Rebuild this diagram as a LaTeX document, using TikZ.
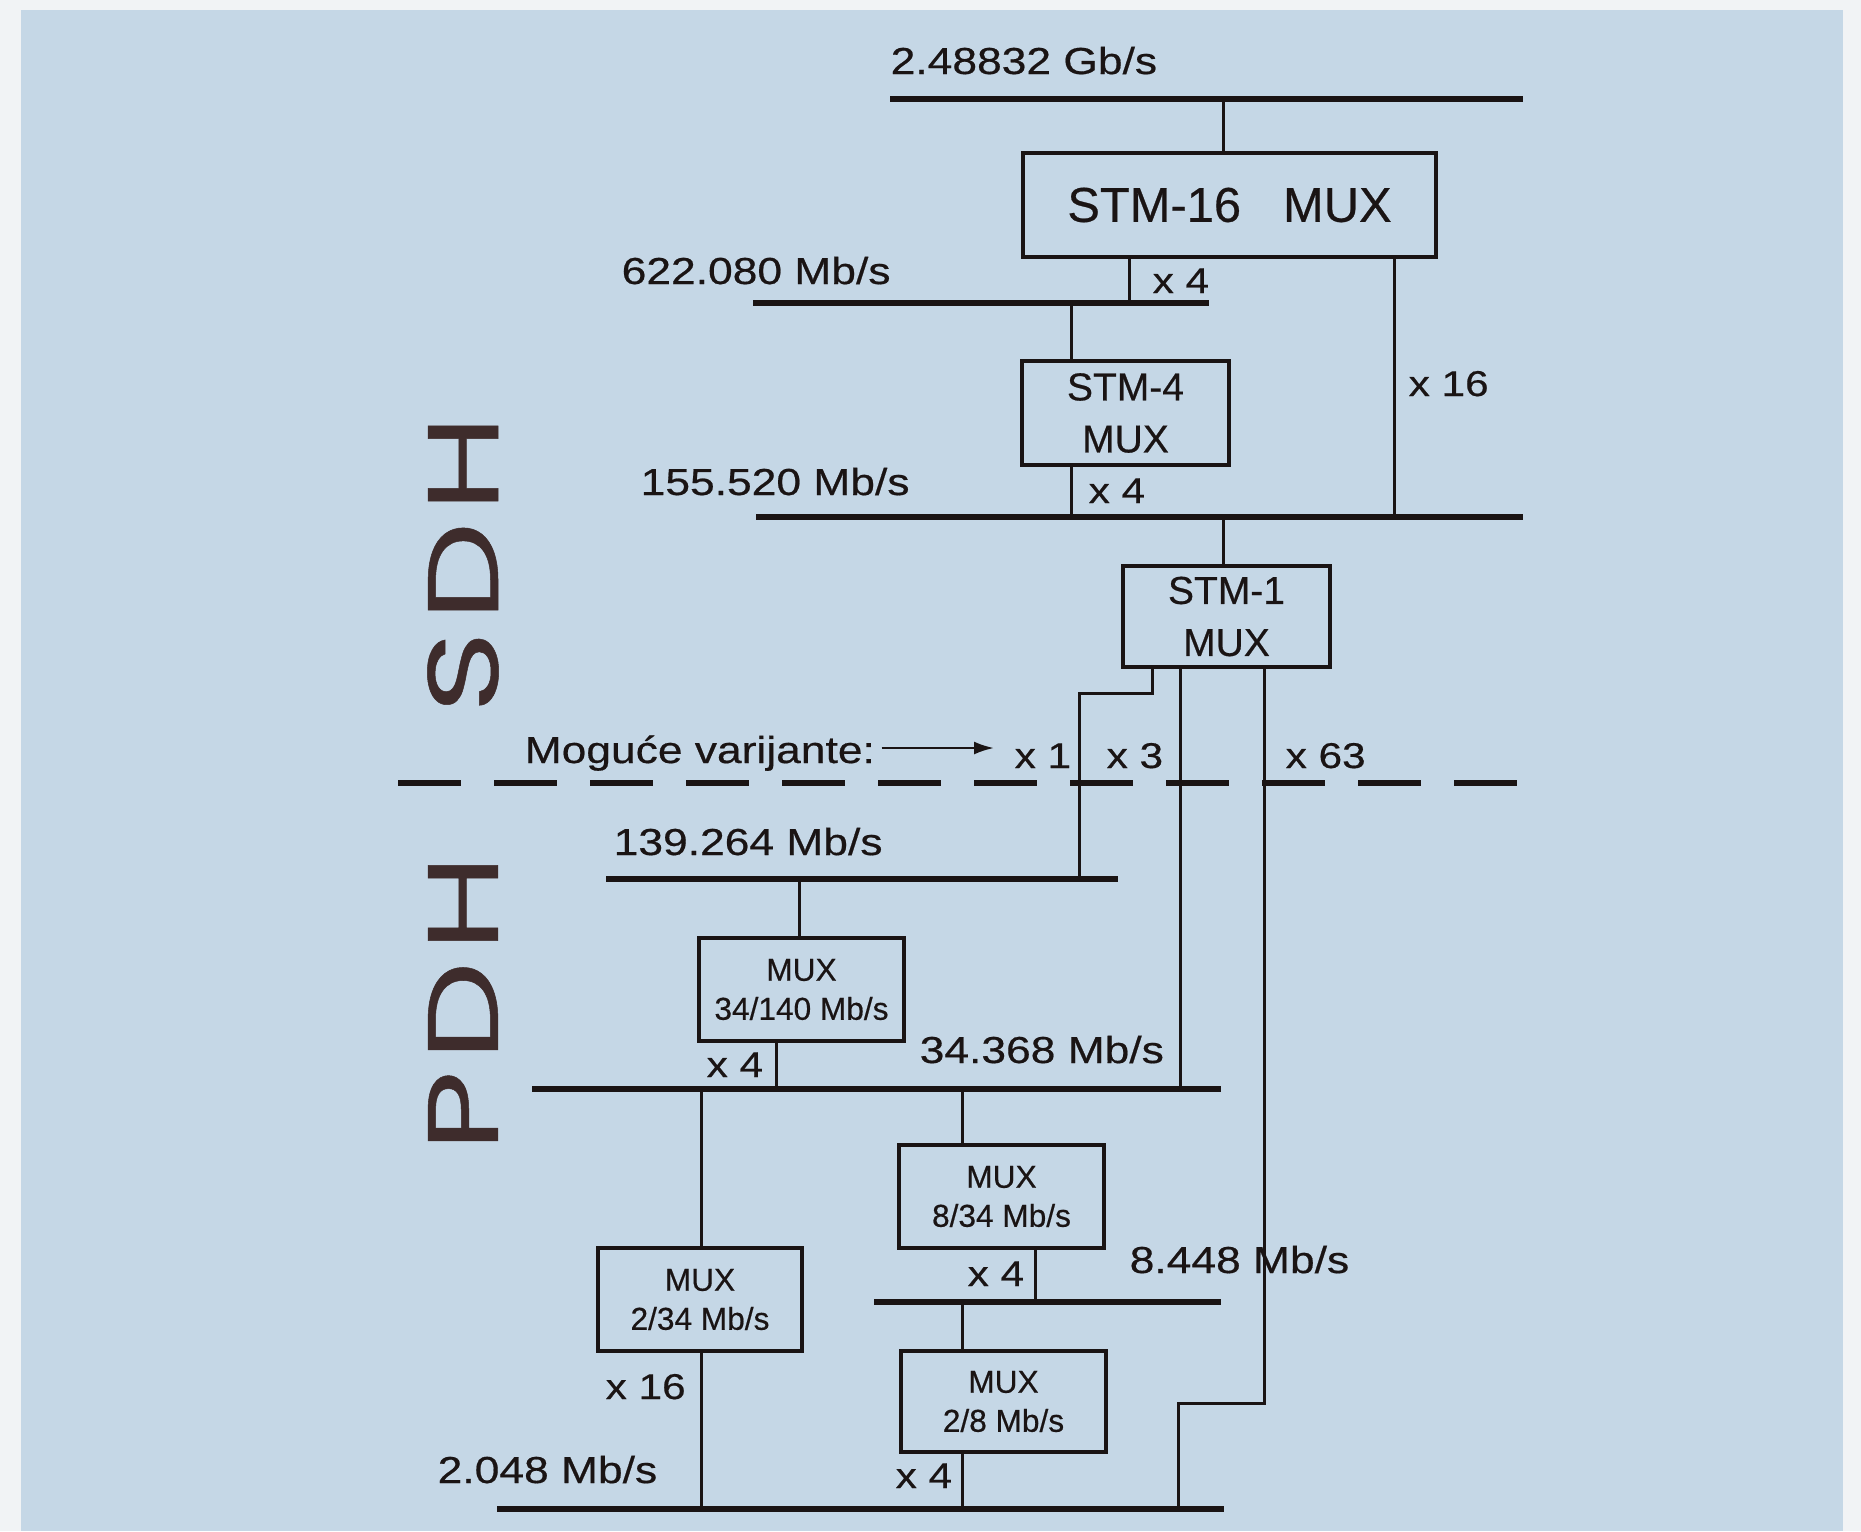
\documentclass[tikz,border=0pt]{standalone}
\usepackage{fontspec}
\setmainfont{Liberation Sans}
\newfontfamily\boxfont[FakeBold=0.5]{Liberation Sans}
\newfontfamily\ratefont[FakeStretch=1.18,FakeBold=0.5]{Liberation Sans}
\newfontfamily\layerfont[FakeStretch=1.4,FakeBold=0.5]{Poppins}
\usetikzlibrary{arrows.meta}

\definecolor{paper}{RGB}{197,215,230}
\definecolor{margin}{RGB}{241,243,245}
\definecolor{ink}{RGB}{26,20,20}
\definecolor{layerink}{RGB}{62,44,44}

\tikzset{
	bus/.style={draw=ink,line width=1.45pt},
	link/.style={draw=ink,line width=0.85pt},
	border/.style={draw=ink,line width=1.45pt,dash pattern=on 6.3mm off 3.3mm},
	pointer/.style={draw=ink,line width=0.7pt,-{Latex[length=2mm,width=1.3mm]}},
	muxbox/.style={draw=ink,line width=1.1pt,inner sep=0pt,align=center,text=ink},
	bigmux/.style={muxbox,font=\boxfont\fontsize{13.9}{16}\selectfont},
	stmmux/.style={muxbox,font=\boxfont\fontsize{11.1}{14.8}\selectfont},
	pdhmux/.style={muxbox,font=\boxfont\fontsize{9}{11.1}\selectfont},
	rate/.style={anchor=base west,inner sep=0pt,text=ink,font=\ratefont\fontsize{10.7}{12}\selectfont},
	mult/.style={anchor=base west,inner sep=0pt,text=ink,font=\ratefont\fontsize{10.2}{12}\selectfont},
	layer/.style={rotate=90,inner sep=0pt,text=layerink,font=\layerfont\fontsize{28.5}{30}\selectfont},
}

\begin{document}
\begin{tikzpicture}[x=0.1mm,y=-0.1mm]
	% Paper
	\fill[margin] (0,0) rectangle (1861,1531);
	\fill[paper] (21,10) rectangle (1843,1531);
	\useasboundingbox (0,0) rectangle (1861,1531);
	% Coordinates (bus ends)
	\coordinate (w1) at (890,99);   \coordinate (e1) at (1523,99);
	\coordinate (w2) at (753,303);  \coordinate (e2) at (1209,303);
	\coordinate (w3) at (756,517);  \coordinate (e3) at (1523,517);
	\coordinate (w4) at (606,879);  \coordinate (e4) at (1118,879);
	\coordinate (w5) at (532,1089); \coordinate (e5) at (1221,1089);
	\coordinate (w6) at (874,1302); \coordinate (e6) at (1221,1302);
	\coordinate (w7) at (497,1509); \coordinate (e7) at (1224,1509);
	\coordinate (dw) at (398,783);  \coordinate (de) at (1517,783);
	% Coordinates (taps on the buses)
	\coordinate (T1) at (1223,99);
	\coordinate (T2) at (1129,303);
	\coordinate (T3) at (1071,303);
	\coordinate (T4) at (1071,517);
	\coordinate (T5) at (1394,517);
	\coordinate (T6) at (1223,517);
	\coordinate (K1) at (1152,693);
	\coordinate (T7) at (1079,879);
	\coordinate (T8) at (1180,1089);
	\coordinate (K2) at (1264,1403);
	\coordinate (T9) at (1178,1509);
	\coordinate (T10) at (799,879);
	\coordinate (T11) at (776,1089);
	\coordinate (T12) at (701,1089);
	\coordinate (T13) at (962,1089);
	\coordinate (T14) at (1035,1302);
	\coordinate (T15) at (962,1302);
	\coordinate (T16) at (962,1509);
	\coordinate (T17) at (701,1509);
	\coordinate (tip) at (994,748);
	% Multiplexers
	\node[bigmux,minimum width=41.3mm,minimum height=10.4mm] (stm16) at (1229.5,205) {STM-16\hspace{4.2mm}MUX};
	\node[stmmux,minimum width=20.7mm,minimum height=10.4mm] (stm4) at (1125.5,413) {STM-4\\MUX};
	\node[stmmux,minimum width=20.7mm,minimum height=10.1mm] (stm1) at (1226.5,616.5) {STM-1\\MUX};
	\node[pdhmux,minimum width=20.5mm,minimum height=10.3mm] (mux140) at (801.5,989.5) {MUX\\34/140 Mb/s};
	\node[pdhmux,minimum width=20.4mm,minimum height=10.3mm] (mux234) at (700,1299.5) {MUX\\2/34 Mb/s};
	\node[pdhmux,minimum width=20.5mm,minimum height=10.3mm] (mux834) at (1001.5,1196.5) {MUX\\8/34 Mb/s};
	\node[pdhmux,minimum width=20.5mm,minimum height=10.1mm] (mux28) at (1003.5,1401.5) {MUX\\2/8 Mb/s};
	% Buses
	\foreach \i in {1,...,7} {
			\draw[bus] (w\i) -- (e\i);
		}
	\draw[border] (dw) -- (de);
	% Links between buses and multiplexers
	\foreach \t/\b in {T1/stm16.north, T2/stm16.south, T3/stm4.north, T4/stm4.south,
			T5/stm16.south, T6/stm1.north, T8/stm1.south, T10/mux140.north,
			T11/mux140.south, T12/mux234.north, T13/mux834.north, T14/mux834.south,
			T15/mux28.north, T16/mux28.south, T17/mux234.south} {
			\draw[link] (\t) -- (\t |- \b);
		}
	\draw[link] (K1 |- stm1.south) -- (K1) -| (T7);
	\draw[link] (K2 |- stm1.south) -- (K2) -| (T9);
	% Rates
	\node[rate] (r2488) at (890,74) {2.48832 Gb/s};
	\node[rate] (r622) at (621,284) {622.080 Mb/s};
	\node[rate] (r155) at (640,495) {155.520 Mb/s};
	\node[rate] (r139) at (613,855) {139.264 Mb/s};
	\node[rate] (r34) at (919,1063) {34.368 Mb/s};
	\node[rate] (r8) at (1129,1273) {8.448 Mb/s};
	\node[rate] (r2) at (437,1483) {2.048 Mb/s};
	\node[rate] (var) at (524,763) {Moguće varijante:};
	\draw[pointer] (var.east |- tip) ++(6,0) -- (tip);
	% Multiplicities
	\node[mult] (m1) at (1152,293) {x 4};
	\node[mult] (m2) at (1408,396) {x 16};
	\node[mult] (m3) at (1088,503) {x 4};
	\node[mult] (m4) at (1014,768) {x 1};
	\node[mult] (m5) at (1106,768) {x 3};
	\node[mult] (m6) at (1285,768) {x 63};
	\node[mult] (m7) at (706,1077) {x 4};
	\node[mult] (m8) at (967,1286) {x 4};
	\node[mult] (m9) at (605,1399) {x 16};
	\node[mult] (m10) at (895,1488) {x 4};
	% Layers
	\node[layer] (sdh) at (463,564) {S\hspace{1mm}D\hspace{1mm}H};
	\node[layer] (pdh) at (463,1003) {P\hspace{1mm}D\hspace{1mm}H};
\end{tikzpicture}
\end{document}
